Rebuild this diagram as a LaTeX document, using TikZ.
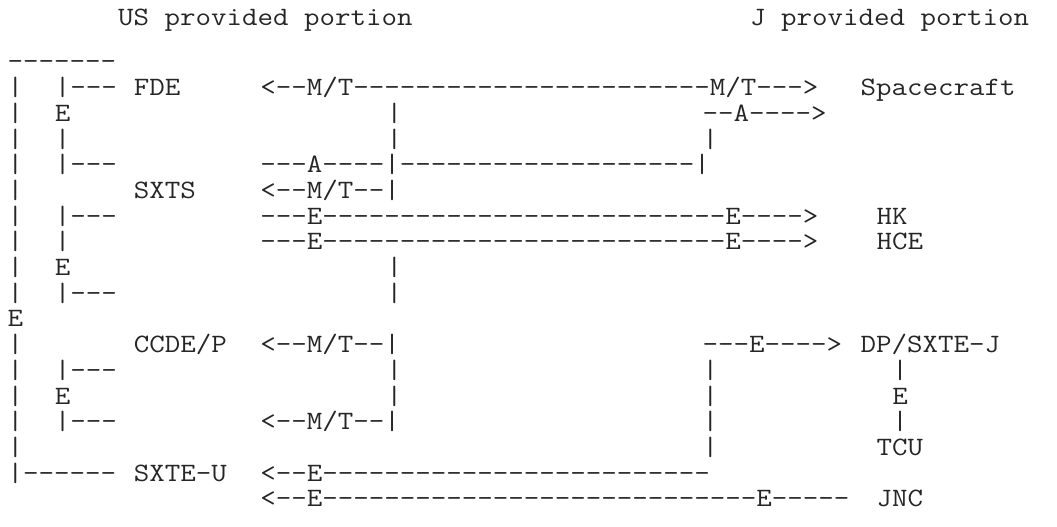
\documentclass[tikz,border=0pt]{standalone}
\usepackage{graphicx}
\definecolor{ink}{RGB}{38,38,38}
% n hyphens, kept apart so that no dash ligature forms
\newcommand\dsh[1]{\foreach\i in {1,...,#1}{-\kern0pt}}
\newcommand\colw{15.8}
\newcommand\rowh{25.7}
\newcommand\wide{1.136}
% \frag{name}{column}{row}{text}
\newcommand\frag[4]{\node[tx] (#1) at ({7.5+#2*\colw},{457-#3*\rowh}) {\scalebox{\wide}[1]{#4}};}
\begin{document}
\begin{tikzpicture}[x=1pt,y=1pt,
  tx/.style={anchor=base west, inner sep=0pt, outer sep=0pt,
             font=\fontsize{26.5}{26.5}\selectfont\ttfamily, text=ink}]
\fill[white] (0,0) rectangle (1057,527);
\useasboundingbox (0,0) rectangle (1057,527);
% titles
\node[tx] (tUS) at ({7.5+7*\colw},501) {\scalebox{\wide}[1]{US provided portion}};
\node[tx] (tJ)  at ({7.5+47*\colw},501) {\scalebox{\wide}[1]{J provided portion}};
% row 0
\frag{r0a}{0}{0}{\dsh{7}}
% row 1
\frag{r1a}{0}{1}{|}
\frag{r1b}{3}{1}{|\dsh{3}}
\frag{FDE}{8}{1}{FDE}
\frag{r1c}{16}{1}{<\dsh{2}M/T\dsh{23}M/T\dsh{3}>}
\frag{SC}{54}{1}{Spacecraft}
% row 2
\frag{r2a}{0}{2}{|}
\frag{r2b}{3}{2}{E}
\frag{r2c}{24}{2}{|}
\frag{r2d}{44}{2}{\dsh{2}A\dsh{4}>}
% row 3
\frag{r3a}{0}{3}{|}
\frag{r3b}{3}{3}{|}
\frag{r3c}{24}{3}{|}
\frag{r3d}{44}{3}{|}
% row 4
\frag{r4a}{0}{4}{|}
\frag{r4b}{3}{4}{|\dsh{3}}
\frag{r4c}{16}{4}{\dsh{3}A\dsh{4}|\dsh{19}|}
% row 5
\frag{r5a}{0}{5}{|}
\frag{SXTS}{8}{5}{SXTS}
\frag{r5c}{16}{5}{<\dsh{2}M/T\dsh{2}|}
% row 6
\frag{r6a}{0}{6}{|}
\frag{r6b}{3}{6}{|\dsh{3}}
\frag{r6c}{16}{6}{\dsh{3}E\dsh{26}E\dsh{4}>}
\frag{HK}{55}{6}{HK}
% row 7
\frag{r7a}{0}{7}{|}
\frag{r7b}{3}{7}{|}
\frag{r7c}{16}{7}{\dsh{3}E\dsh{26}E\dsh{4}>}
\frag{HCE}{55}{7}{HCE}
% row 8
\frag{r8a}{0}{8}{|}
\frag{r8b}{3}{8}{E}
\frag{r8c}{24}{8}{|}
% row 9
\frag{r9a}{0}{9}{|}
\frag{r9b}{3}{9}{|\dsh{3}}
\frag{r9c}{24}{9}{|}
% row 10
\frag{r10a}{0}{10}{E}
% row 11
\frag{r11a}{0}{11}{|}
\frag{CCDE}{8}{11}{CCDE/P}
\frag{r11c}{16}{11}{<\dsh{2}M/T\dsh{2}|}
\frag{r11d}{44}{11}{\dsh{3}E\dsh{4}>}
\frag{DP}{54}{11}{DP/SXTE-J}
% row 12
\frag{r12a}{0}{12}{|}
\frag{r12b}{3}{12}{|\dsh{3}}
\frag{r12c}{24}{12}{|}
\frag{r12d}{44}{12}{|}
\frag{r12e}{56}{12}{|}
% row 13
\frag{r13a}{0}{13}{|}
\frag{r13b}{3}{13}{E}
\frag{r13c}{24}{13}{|}
\frag{r13d}{44}{13}{|}
\frag{r13e}{56}{13}{E}
% row 14
\frag{r14a}{0}{14}{|}
\frag{r14b}{3}{14}{|\dsh{3}}
\frag{r14c}{16}{14}{<\dsh{2}M/T\dsh{2}|}
\frag{r14d}{44}{14}{|}
\frag{r14e}{56}{14}{|}
% row 15
\frag{r15a}{0}{15}{|}
\frag{r15d}{44}{15}{|}
\frag{TCU}{55}{15}{TCU}
% row 16
\frag{r16a}{0}{16}{|\dsh{6}}
\frag{SXTEU}{8}{16}{SXTE-U}
\frag{r16c}{16}{16}{<\dsh{2}E\dsh{25}}
% row 17
\frag{r17c}{16}{17}{<\dsh{2}E\dsh{28}E\dsh{5}}
\frag{JNC}{55}{17}{JNC}
\end{tikzpicture}
\end{document}
